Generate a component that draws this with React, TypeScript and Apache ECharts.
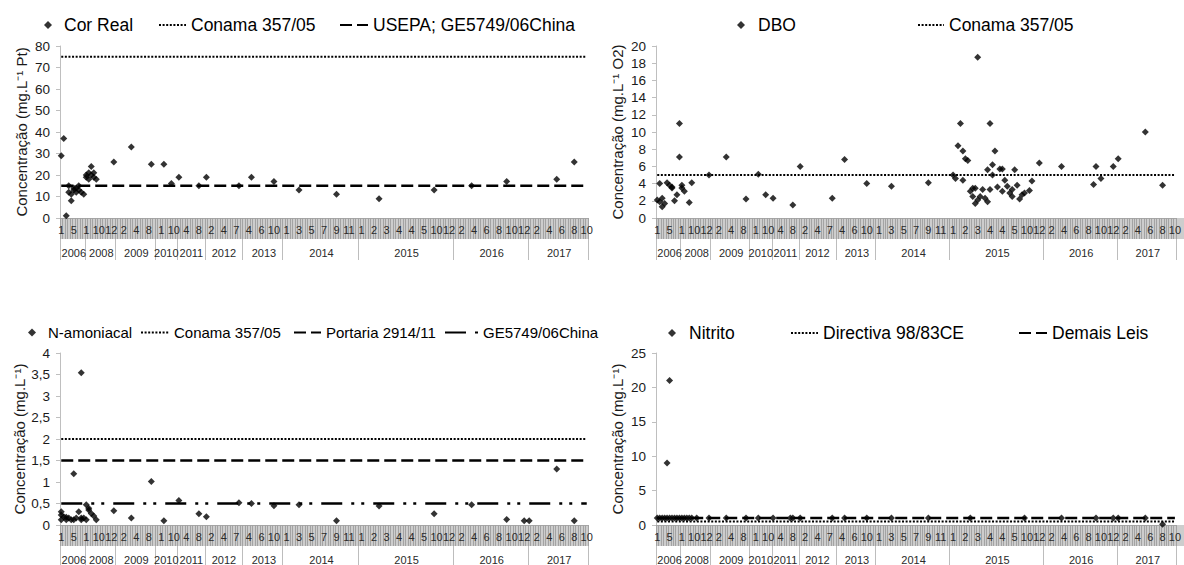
import React, { useEffect, useRef } from "react";
import * as echarts from "echarts";

const FONT = '"Liberation Sans", Arial, sans-serif';

// ---- x axis (sample index categories) ----
const N = 211;
const LABEL_STEP = 5;
const monthLabels = [
  "1", "5", "1", "10", "12", "2", "4", "8", "1", "10", "4", "8", "2", "4", "7", "4", "6", "10",
  "1", "3", "5", "7", "9", "11", "1", "2", "3", "4", "4", "5", "10", "12", "2", "4", "6", "8", "10", "12",
  "2", "4", "6", "8", "10",
];
const years = ["2006", "2008", "2009", "2010", "2011", "2012", "2013", "2014", "2015", "2016", "2017"];
const yearStarts = [0, 10, 22, 38, 47, 58, 73, 89, 119, 157, 187];

// ---- data: [sample index, value] ----
const corReal = [
  [0, 29], [1, 37], [2, 1], [3, 15], [3, 12], [4, 8], [4, 11], [5, 13], [5, 14], [6, 12], [6, 14], [7, 13],
  [7, 15], [8, 12], [9, 11], [10, 20], [10, 19], [11, 21], [11, 18], [12, 20], [12, 24], [13, 21], [13, 19],
  [14, 18], [21, 26], [28, 33], [36, 25], [41, 25], [44, 16], [47, 19], [55, 15], [58, 19], [71, 15], [76, 19],
  [85, 17], [95, 13], [110, 11], [127, 9], [149, 13], [164, 15], [178, 17], [198, 18], [205, 26],
];
const corConama = 75;
const corUsepa = 15;

const dbo = [
  [0, 2.1], [1, 4.0], [1, 1.9], [2, 2.3], [2, 1.3], [3, 1.7], [4, 4.1], [5, 3.8], [6, 3.5], [6, 3.6], [7, 2.0],
  [8, 2.7], [9, 7.1], [9, 11.0], [10, 3.8], [10, 3.5], [11, 3.1], [13, 1.8], [14, 4.1], [21, 5.0], [28, 7.1],
  [36, 2.2], [41, 5.1], [44, 2.7], [47, 2.3], [55, 1.5], [58, 6.0], [71, 2.3], [76, 6.8], [85, 4.0], [95, 3.7],
  [110, 4.1], [120, 5.0], [121, 4.6], [122, 8.4], [123, 11.0], [124, 7.8], [124, 4.4], [125, 6.9], [126, 6.7],
  [127, 3.1], [128, 3.45], [128, 2.5], [129, 1.7], [129, 3.45], [130, 18.7], [130, 2.1], [131, 2.5], [132, 3.3],
  [133, 2.3], [134, 1.9], [134, 5.6], [135, 11.0], [135, 3.3], [136, 5.0], [136, 6.2], [137, 7.8], [138, 3.6],
  [139, 5.7], [140, 5.7], [140, 3.1], [141, 4.4], [142, 3.7], [143, 2.9], [144, 3.3], [144, 2.5], [145, 5.6],
  [146, 3.8], [147, 2.2], [148, 2.7], [149, 2.9], [151, 3.2], [152, 4.3], [155, 6.4], [164, 6.0], [177, 3.9],
  [178, 6.0], [180, 4.6], [185, 6.0], [187, 6.9], [198, 10.0], [205, 3.8],
];
const dboConama = 5;

const nAmoniacal = [
  [0, 0.31], [0, 0.12], [0, 0.23], [1, 0.19], [2, 0.18], [2, 0.12], [3, 0.16], [4, 0.12], [5, 1.19], [5, 0.12],
  [6, 0.16], [7, 0.31], [8, 3.54], [8, 0.16], [8, 0.12], [9, 0.16], [10, 0.12], [10, 0.47], [11, 0.39],
  [11, 0.35], [12, 0.27], [13, 0.21], [14, 0.12], [21, 0.33], [28, 0.16], [36, 1.01], [41, 0.1], [47, 0.57],
  [55, 0.26], [58, 0.19], [71, 0.52], [76, 0.5], [85, 0.45], [95, 0.47], [110, 0.1], [127, 0.44], [149, 0.26],
  [164, 0.47], [178, 0.13], [185, 0.1], [187, 0.1], [198, 1.3], [205, 0.1],
];
const nConama = 2;
const nPortaria = 1.5;
const nGE = 0.5;

const nitrito = [
  [0, 1.0], [1, 1.0], [2, 1.0], [3, 1.0], [4, 9.0], [4, 1.0], [5, 21.0], [5, 1.0], [6, 1.0], [7, 1.0], [8, 1.0],
  [9, 1.0], [10, 1.0], [11, 1.0], [12, 1.0], [13, 1.0], [14, 1.0], [16, 1.0], [21, 1.0], [28, 1.0], [36, 1.0],
  [41, 1.0], [47, 1.0], [54, 1.0], [55, 1.0], [58, 1.0], [71, 1.0], [76, 1.0], [85, 1.0], [95, 1.0], [110, 1.0],
  [127, 1.0], [149, 1.0], [164, 1.0], [178, 1.0], [185, 1.0], [187, 1.0], [198, 1.0], [205, 0.1],
];
const nitDirectiva = 0.5;
const nitDemais = 1;

// ---- styles ----
const DOT = { type: [2, 1.6], width: 2 };
const DASH = { type: [12, 5], width: 2.5 };
const DASHDOT = { type: [21, 9, 3, 7, 3, 9], width: 2.5 };

const GRID_W = 528;
const GRID_H = 172;
const BAND_H = 21;

type LineDef = { name: string; value: number; style: any; legendLeft: number; iconW: number };
type Panel = {
  left: number; top: number; yMax: number; yInt: number; yName: string; comma?: boolean;
  sName: string; data: number[][]; sLegendLeft: number; sPad: number; legendTop: number; legendFont: number;
  lines: LineDef[];
};

const panels: Panel[] = [
  {
    left: 60, top: 46, yMax: 80, yInt: 10, yName: "Concentração (mg.L⁻¹ Pt)",
    sName: "Cor Real", data: corReal, sLegendLeft: 44, sPad: 7, legendTop: 16, legendFont: 17.5,
    lines: [
      { name: "Conama 357/05", value: corConama, style: DOT, legendLeft: 158, iconW: 27 },
      { name: "USEPA; GE5749/06China", value: corUsepa, style: DASH, legendLeft: 339, iconW: 28 },
    ],
  },
  {
    left: 656, top: 46, yMax: 20, yInt: 2, yName: "Concentração (mg.L⁻¹ O2)",
    sName: "DBO", data: dbo, sLegendLeft: 737, sPad: 8, legendTop: 16, legendFont: 17.5,
    lines: [{ name: "Conama 357/05", value: dboConama, style: DOT, legendLeft: 917, iconW: 26 }],
  },
  {
    left: 60, top: 353, yMax: 4, yInt: 0.5, yName: "Concentração (mg.L⁻¹)", comma: true,
    sName: "N-amoniacal", data: nAmoniacal, sLegendLeft: 28, sPad: 7, legendTop: 325, legendFont: 15,
    lines: [
      { name: "Conama 357/05", value: nConama, style: DOT, legendLeft: 140, iconW: 28 },
      { name: "Portaria 2914/11", value: nPortaria, style: DASH, legendLeft: 293, iconW: 27 },
      { name: "GE5749/06China", value: nGE, style: DASHDOT, legendLeft: 444, iconW: 33 },
    ],
  },
  {
    left: 656, top: 353, yMax: 25, yInt: 5, yName: "Concentração (mg.L⁻¹)",
    sName: "Nitrito", data: nitrito, sLegendLeft: 668, sPad: 8, legendTop: 324, legendFont: 17.5,
    lines: [
      { name: "Directiva 98/83CE", value: nitDirectiva, style: DOT, legendLeft: 790, iconW: 27 },
      { name: "Demais Leis", value: nitDemais, style: DASH, legendLeft: 1018, iconW: 28 },
    ],
  },
];

function buildOption() {
  const cats = Array.from({ length: N }, (_, i) => "s" + i);
  const yearCenters = years.map((_, k) => {
    const end = k + 1 < yearStarts.length ? yearStarts[k + 1] : N;
    return Math.round((yearStarts[k] + end) / 2 - 0.5);
  });

  const grid: any[] = [];
  const xAxis: any[] = [];
  const yAxis: any[] = [];
  const series: any[] = [];
  const legend: any[] = [];
  const graphic: any[] = [];

  panels.forEach((p, g) => {
    const legendText = { fontSize: p.legendFont, color: "#000", fontFamily: FONT };
    grid.push({ left: p.left, top: p.top, width: GRID_W, height: GRID_H });
    graphic.push({
      type: "rect", z: -10, silent: true,
      shape: { x: p.left, y: p.top + GRID_H, width: GRID_W, height: BAND_H },
      style: { fill: "#cdcdcd" },
    });
    xAxis.push({
      type: "category", gridIndex: g, data: cats, boundaryGap: true,
      axisLine: { show: true, lineStyle: { color: "#a6a6a6", width: 1 } },
      axisTick: { show: true, interval: 0, length: BAND_H, lineStyle: { color: "#a3a3a3", width: 1 } },
      axisLabel: {
        interval: (i: number) => i % LABEL_STEP === 0,
        formatter: (_v: string, i: number) => (i % LABEL_STEP === 0 ? monthLabels[i / LABEL_STEP] ?? "" : ""),
        margin: 6, fontSize: 11, color: "#2a2a2a", fontFamily: FONT,
      },
      splitLine: { show: false },
    });
    xAxis.push({
      type: "category", gridIndex: g, data: cats, boundaryGap: true, position: "bottom", offset: BAND_H,
      axisLine: { show: false },
      axisTick: { show: true, interval: (i: number) => yearStarts.includes(i), length: 21, lineStyle: { color: "#bdbdbd" } },
      axisLabel: {
        interval: (i: number) => yearCenters.includes(i),
        formatter: (_v: string, i: number) => {
          const k = yearCenters.indexOf(i);
          return k >= 0 ? years[k] : "";
        },
        margin: 8, fontSize: 11, color: "#2a2a2a", fontFamily: FONT,
      },
      splitLine: { show: false },
    });
    yAxis.push({
      type: "value", gridIndex: g, min: 0, max: p.yMax, interval: p.yInt,
      axisLine: { show: true, lineStyle: { color: "#bfbfbf" } },
      axisTick: { show: true, length: 4, lineStyle: { color: "#bfbfbf" } },
      splitLine: { show: false },
      axisLabel: {
        fontSize: 13.5, color: "#1a1a1a", margin: 10, fontFamily: FONT,
        formatter: (v: number) => (p.comma ? String(v).replace(".", ",") : String(v)),
      },
      name: p.yName, nameLocation: "middle", nameGap: 31,
      nameTextStyle: { fontSize: 15, color: "#1a1a1a", fontFamily: FONT },
    });

    series.push({
      type: "scatter", name: p.sName, xAxisIndex: 2 * g, yAxisIndex: g, data: p.data,
      symbol: "diamond", symbolSize: 7, itemStyle: { color: "#000" }, z: 5,
    });
    legend.push({
      data: [p.sName], left: p.sLegendLeft, top: p.legendTop, padding: 0, icon: "diamond",
      itemWidth: 8, itemHeight: 8, selectedMode: false,
      textStyle: { ...legendText, padding: [0, 0, 0, p.sPad] },
    });

    p.lines.forEach((l) => {
      series.push({
        type: "line", name: l.name, xAxisIndex: 2 * g, yAxisIndex: g,
        data: [[0, l.value], [N - 1, l.value]],
        symbol: "none", lineStyle: { color: "#000", width: l.style.width, type: l.style.type },
        itemStyle: { color: "#000" }, z: 3,
      });
      legend.push({
        data: [l.name], left: l.legendLeft, top: p.legendTop, padding: 0, itemWidth: l.iconW, itemHeight: 8,
        itemStyle: { opacity: 0 }, textStyle: legendText, selectedMode: false,
      });
    });
  });

  return { animation: false, backgroundColor: "#fff", grid, xAxis, yAxis, series, legend, graphic };
}

export default function App() {
  const ref = useRef<HTMLDivElement>(null);
  useEffect(() => {
    const chart = echarts.init(ref.current!, undefined, { renderer: "svg" });
    chart.setOption(buildOption());
    return () => chart.dispose();
  }, []);
  return <div ref={ref} style={{ position: "absolute", left: 0, top: 0, width: 1184, height: 565 }} />;
}
